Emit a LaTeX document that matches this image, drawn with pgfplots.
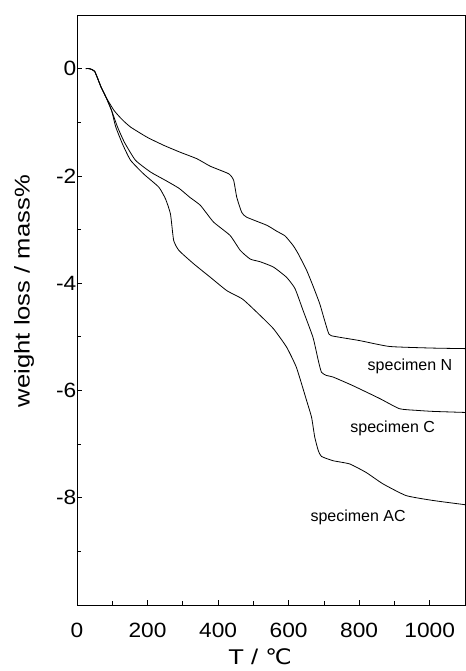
\documentclass[border=0pt]{standalone}
\usepackage{fontspec}
\setmainfont{Liberation Sans}
\newfontfamily\tckfont[FakeStretch=1.1]{Liberation Sans}
\newfontfamily\lblfont[FakeStretch=1.2]{Liberation Sans}
\newfontfamily\djv[FakeStretch=1.1]{DejaVu Sans}
\usepackage{pgfplots}
\pgfplotsset{compat=1.18}
\usetikzlibrary{calc}

\pgfplotsset{tga/.style={black, mark=none, line width=0.6pt, smooth, tension=0.3}}

\begin{document}
\begin{tikzpicture}
\begin{axis}[
  scale only axis,
  width=291pt, height=442.5pt,
  xmin=0, xmax=1100, ymin=-10, ymax=1,
  xtick={0,200,...,1000}, minor x tick num=1,
  ytick={-8,-6,-4,-2,0}, minor ytick={-9,-7,-5,-3,-1},
  tick pos=left, tick align=inside,
  major tick length=4pt, minor tick length=3pt,
  every tick/.style={black, line width=0.6pt},
  axis line style={line width=0.7pt},
  /pgf/number format/assume math mode=true,
  /pgf/number format/1000 sep={},
  ticklabel style={font=\tckfont\fontsize{15.5}{15.5}\selectfont},
  xticklabel style={anchor=base, yshift=-24pt},
  yticklabel style={xshift=3pt},
  xlabel={T / {\djv ℃}},
  ylabel={weight loss / mass\%},
  label style={font=\lblfont\fontsize{16}{16}\selectfont},
  xlabel style={at={(axis description cs:0.472,0)}, anchor=base, yshift=-44.5pt},
  ylabel style={at={(axis description cs:-0.1366,0.532)}, anchor=center},
  clip=false,
]
\addplot[tga] coordinates {
  (25,0)(35,0)(50,-0.05)(68,-0.34)(82,-0.53)(105,-0.78)(128,-0.95)
  (152,-1.09)(199,-1.28)(246,-1.43)(293,-1.56)(340,-1.68)(378,-1.82)
  (430,-1.96)(444,-2.08)(453,-2.40)(467,-2.68)(481,-2.77)(538,-2.92)
  (566,-3.03)(590,-3.12)(613,-3.30)(627,-3.45)(651,-3.76)(669,-4.05)
  (688,-4.38)(700,-4.65)(712,-4.91)(721,-4.98)(801,-5.07)(886,-5.18)
  (1008,-5.21)(1100,-5.22)
};
\addplot[tga] coordinates {
  (25,0)(35,0)(50,-0.05)(68,-0.34)(82,-0.53)(98,-0.78)(115,-1.09)
  (135,-1.38)(166,-1.71)(209,-1.93)(250,-2.08)(289,-2.23)(320,-2.40)
  (350,-2.55)(387,-2.86)(434,-3.11)(463,-3.39)(491,-3.55)(519,-3.60)
  (557,-3.70)(594,-3.89)(618,-4.10)(641,-4.51)(669,-5.01)(684,-5.44)
  (693,-5.66)(707,-5.72)(726,-5.75)(782,-5.91)(858,-6.15)(914,-6.34)
  (960,-6.37)(1008,-6.39)(1100,-6.41)
};
\addplot[tga] coordinates {
  (25,0)(35,0)(50,-0.05)(68,-0.34)(82,-0.53)(98,-0.78)(110,-1.09)
  (130,-1.42)(152,-1.71)(190,-1.97)(232,-2.21)(251,-2.43)(265,-2.71)
  (274,-3.20)(289,-3.39)(331,-3.64)(378,-3.89)(425,-4.14)(470,-4.30)
  (519,-4.60)(557,-4.85)(594,-5.19)(622,-5.57)(651,-6.19)(665,-6.50)
  (674,-6.87)(684,-7.12)(693,-7.23)(726,-7.31)(773,-7.37)(820,-7.53)
  (867,-7.74)(933,-7.96)(1008,-8.05)(1100,-8.13)
};
\node[font=\fontsize{12}{12}\selectfont] at (axis cs:944,-5.56) {specimen N};
\node[font=\fontsize{12}{12}\selectfont] at (axis cs:895,-6.71) {specimen C};
\node[font=\fontsize{12}{12}\selectfont] at (axis cs:797,-8.37) {specimen AC};
\coordinate (ll) at (rel axis cs:0,0);
\coordinate (ur) at (rel axis cs:1,1);
\end{axis}
\pgfresetboundingbox
\path ($(ll)+(-57.75pt,-49.5pt)$) rectangle ($(ur)+(0.75pt,11.25pt)$);
\end{tikzpicture}
\end{document}
